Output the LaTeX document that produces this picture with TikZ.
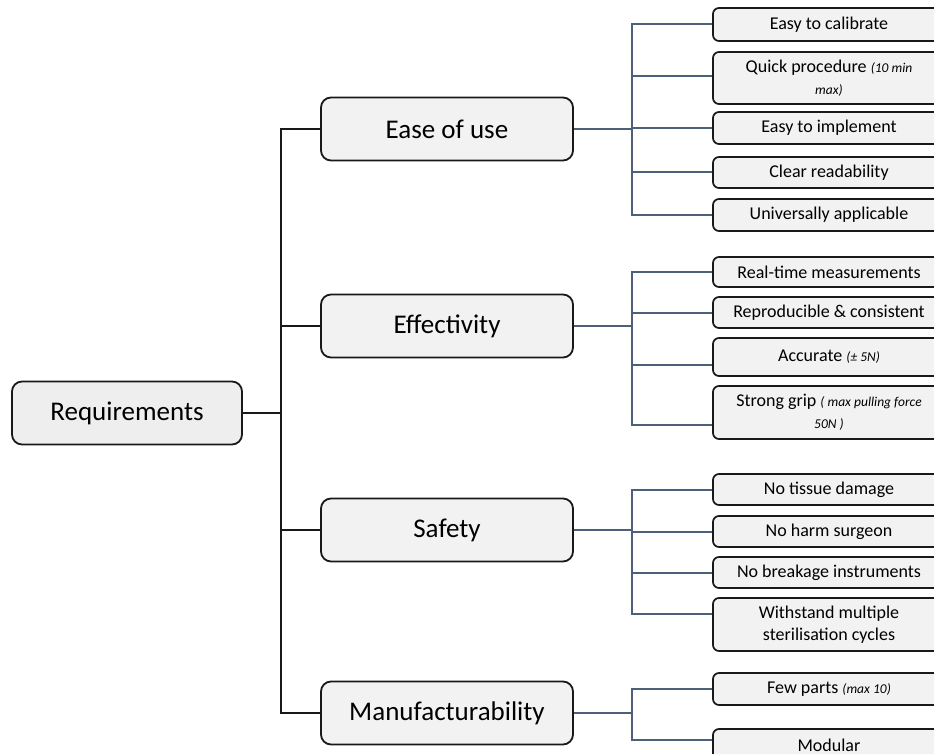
\documentclass[tikz,border=0pt]{standalone}
\usepackage{fontspec}
\setmainfont{Carlito}
\definecolor{boxfill}{HTML}{F2F2F2}
\definecolor{rootfill}{HTML}{EEEEEE}
\definecolor{linkblue}{HTML}{4E5F7A}
\newcommand{\smallit}[1]{{\fontsize{13.5}{16}\selectfont\itshape #1}}
\begin{document}
\begin{tikzpicture}[x=1pt,y=-1pt,
  catbox/.style={draw=black!90, line width=1.8pt, fill=boxfill, rounded corners=10pt,
    inner sep=0pt, minimum width=252pt, minimum height=63pt, align=center,
    font=\fontsize{27}{32}\selectfont},
  rootbox/.style={catbox, fill=rootfill, minimum width=230pt},
  leafbox/.style={draw=black!90, line width=1.7pt, fill=boxfill, rounded corners=6pt,
    inner sep=0pt, minimum width=232pt, align=center,
    font=\fontsize{18}{22}\selectfont},
  blackline/.style={draw=black!90, line width=2pt},
  blueline/.style={draw=linkblue, line width=2pt}]
\useasboundingbox (0,0) rectangle (934,754);
\clip (0,0) rectangle (934,754);
\fill[white] (0,0) rectangle (934,754);

% root and categories
\node[rootbox] (req) at (127,413) {Requirements};
\node[catbox] (ease) at (447,129) {Ease of use};
\node[catbox] (eff) at (447,326) {Effectivity};
\node[catbox] (saf) at (447,530) {Safety};
\node[catbox] (man) at (447,713) {Manufacturability};

% leaves
\node[leafbox, minimum height=33pt] (cal) at (829,24.5) {Easy to calibrate};
\node[leafbox, minimum height=52pt] (quick) at (829,78) {Quick procedure \smallit{(10 min}\\\smallit{max)}};
\node[leafbox, minimum height=32pt] (impl) at (829,128) {Easy to implement};
\node[leafbox, minimum height=31pt] (clear) at (829,172.5) {Clear readability};
\node[leafbox, minimum height=32pt] (univ) at (829,215) {Universally applicable};

\node[leafbox, minimum height=30pt] (real) at (829,272) {Real-time measurements};
\node[leafbox, minimum height=31pt] (repro) at (829,312.5) {Reproducible \& consistent};
\node[leafbox, minimum height=38pt] (acc) at (829,357) {Accurate \smallit{(± 5N)}};
\node[leafbox, minimum height=53pt] (grip) at (829,412.5) {Strong grip \smallit{( max pulling force}\\\smallit{50N )}};

\node[leafbox, minimum height=31pt] (tissue) at (829,489.5) {No tissue damage};
\node[leafbox, minimum height=31pt] (harm) at (829,531.5) {No harm surgeon};
\node[leafbox, minimum height=31pt] (brk) at (829,572.5) {No breakage instruments};
\node[leafbox, minimum height=53pt] (withst) at (829,624.5) {Withstand multiple\\sterilisation cycles};

\node[leafbox, minimum height=32pt] (few) at (829,689) {Few parts \smallit{(max 10)}};
\node[leafbox, minimum height=32pt] (modu) at (829,745) {Modular};

% junction coordinates
\coordinate (jr) at (281,413);
\coordinate (je) at (632,129);
\coordinate (jf) at (632,326);
\coordinate (js) at (632,530);
\coordinate (jm) at (632,713);

% black tree
\path[blackline] (req.east) -- (jr);
\path[blackline] (ease.west) -| (jr) |- (man.west);
\path[blackline] (jr |- eff.west) -- (eff.west);
\path[blackline] (jr |- saf.west) -- (saf.west);

% blue branches: ease of use
\path[blueline] (ease.east) -- (je);
\path[blueline] (cal.west) -| (je |- univ.west) -- (univ.west);
\path[blueline] (je |- quick.west) ++(0,-2) -- ([yshift=2pt]quick.west);
\path[blueline] (je |- impl.west) -- (impl.west);
\path[blueline] (je |- clear.west) -- (clear.west);

% effectivity
\path[blueline] (eff.east) -- (jf);
\path[blueline] (real.west) -| (632,425) -- ([yshift=-12.5pt]grip.west);
\path[blueline] (jf |- repro.west) -- (repro.west);
\path[blueline] (632,365) -- ([yshift=-8pt]acc.west);

% safety
\path[blueline] (saf.east) -- (js);
\path[blueline] (tissue.west) -| (632,614) -- ([yshift=10.5pt]withst.west);
\path[blueline] (js |- harm.west) -- (harm.west);
\path[blueline] (js |- brk.west) -- (brk.west);

% manufacturability
\path[blueline] (man.east) -- (jm);
\path[blueline] (few.west) -| (632,740) -- ([yshift=5pt]modu.west);
\end{tikzpicture}
\end{document}
